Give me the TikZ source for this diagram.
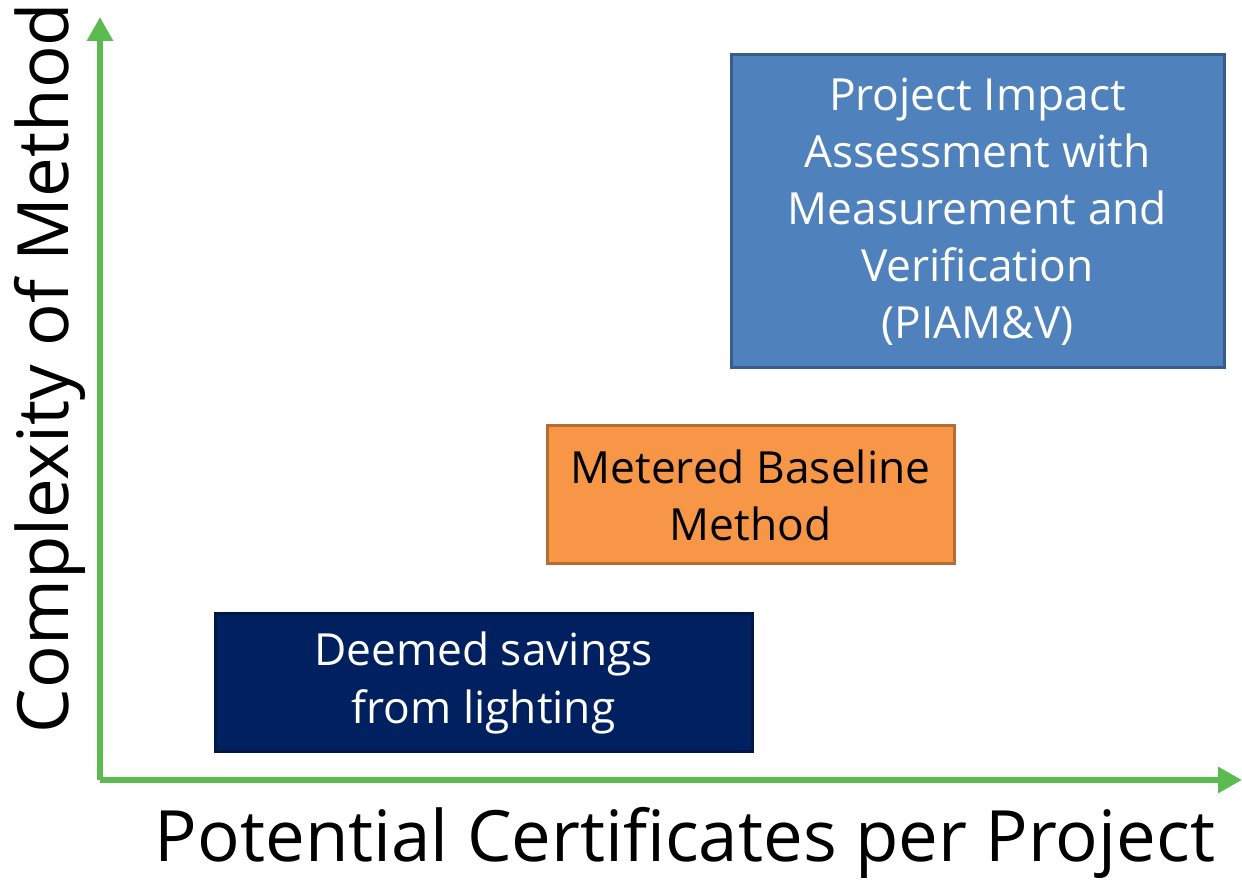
\documentclass[tikz,border=0pt]{standalone}
\usepackage{fontspec}
\setmainfont{Open Sans}
\usetikzlibrary{arrows.meta}

\definecolor{axisgreen}{HTML}{5BBB4F}
\definecolor{piamfill}{HTML}{4F81BD}
\definecolor{piamline}{HTML}{385D8A}
\definecolor{meterfill}{HTML}{F79646}
\definecolor{meterline}{HTML}{B66D31}
\definecolor{deemfill}{HTML}{002060}
\definecolor{deemline}{HTML}{001848}

\tikzset{
  axis/.style={axisgreen, line width=0.12cm, -{Triangle[width=0.5cm,length=0.48cm]}},
  method/.style={line width=0.06cm, align=center, inner sep=0pt,
    font=\fontsize{25.2}{32.5}\selectfont},
  axislabel/.style={font=\fontsize{40.3}{48}\selectfont}
}

\begin{document}
\begin{tikzpicture}
  \useasboundingbox (0,0) rectangle (24.84,17.66);
  \def\xo{2.0}
  \def\yo{2.06}
  \coordinate (origin) at (\xo,\yo);
  \coordinate (ytip) at (\xo,17.32);
  \coordinate (xtip) at (24.84,\yo);
  \draw[axis] (origin) -- (ytip);
  \draw[axis] (origin) -- (xtip);
  %
  \node[method, draw=piamline, fill=piamfill, text=white,
    minimum width=9.86cm, minimum height=6.26cm] (piam) at (19.55,13.43)
    {Project Impact\\Assessment with\\Measurement and\\Verification\\(PIAM\&V)};
  \node[method, draw=meterline, fill=meterfill, text=black,
    minimum width=8.14cm, minimum height=2.76cm] (metered) at (15.01,7.76)
    {Metered Baseline\\Method};
  \node[method, draw=deemline, fill=deemfill, text=white,
    minimum width=10.74cm, minimum height=2.76cm] (deemed) at (9.67,4.0)
    {Deemed savings\\from lighting};
  %
  \node[axislabel] (xlabel) at (13.7,0.8) {Potential Certificates per Project};
  \node[axislabel, rotate=90] (ylabel) at (1.0,10.3) {Complexity of Method};
\end{tikzpicture}
\end{document}
